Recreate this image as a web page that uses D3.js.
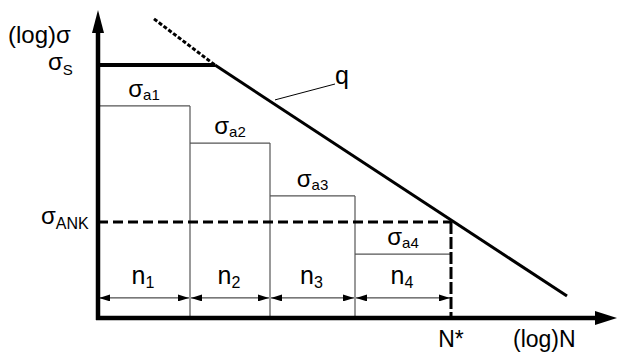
<!DOCTYPE html>
<html>
<head>
<meta charset="utf-8">
<script src="https://cdn.jsdelivr.net/npm/d3@7"></script>
<style>
  html, body { margin: 0; padding: 0; background: #fff; }
  svg { display: block; }
  text { font-family: "Liberation Sans", Arial, sans-serif; fill: #000; }
</style>
</head>
<body>
<div id="chart"></div>
<script>
// Load spectrum blocks on a log-log stress / cycle diagram (units are log-scale steps)
const blockStarts   = [0, 1.84, 3.44, 5.14];
const blockEnds     = [1.84, 3.44, 5.14, 7.06];
const blockStress   = [7.07, 5.83, 4.07, 2.13];
const stressLabels  = ["a1", "a2", "a3", "a4"];
const cycleLabels   = ["1", "2", "3", "4"];

const sigmaS   = 8.43;   // static strength level
const sigmaANK = 3.2;    // endurance limit
const nStar    = 7.06;   // knee point N*
const arrowLevel = 0.67; // height of the n_i dimension arrows

// Woehler line q: sloping part and extrapolated (dotted) part
const qLine      = [[2.34, 8.43], [9.38, 0.73]];
const qDotted    = [[1.12, 9.97], [2.34, 8.43]];
const qLeader    = [[3.54, 7.27], [4.74, 7.8]];

const W = 618, H = 353;
const x = d3.scaleLinear().domain([0, 10]).range([98, 598]);
const y = d3.scaleLinear().domain([0, 10]).range([318, 18]);

const svg = d3.select("#chart").append("svg")
  .attr("width", W).attr("height", H);

const defs = svg.append("defs");
defs.append("marker").attr("id", "dimArrow")
  .attr("viewBox", "0 0 11 7").attr("refX", 11).attr("refY", 3.5)
  .attr("markerWidth", 11).attr("markerHeight", 7)
  .attr("markerUnits", "userSpaceOnUse").attr("orient", "auto-start-reverse")
  .append("path").attr("d", "M0,0 L11,3.5 L0,7 Z").attr("fill", "#000");

const line = d3.line().x(d => x(d[0])).y(d => y(d[1]));

// Block outlines (thin grey)
const thin = svg.append("g").attr("stroke", "#555").attr("stroke-width", 1.2).attr("fill", "none");
blockStress.forEach((s, i) => {
  thin.append("line")
    .attr("x1", x(blockStarts[i])).attr("x2", x(blockEnds[i]))
    .attr("y1", y(s)).attr("y2", y(s));
  if (i < blockStress.length - 1) {
    thin.append("line")
      .attr("x1", x(blockEnds[i])).attr("x2", x(blockEnds[i]))
      .attr("y1", y(s)).attr("y2", y(0));
  }
});

// Dimension arrows n_i
const dims = svg.append("g").attr("stroke", "#222").attr("stroke-width", 1);
blockStarts.forEach((s, i) => {
  dims.append("line")
    .attr("x1", x(s) + 1).attr("x2", x(blockEnds[i]) - 1)
    .attr("y1", y(arrowLevel)).attr("y2", y(arrowLevel))
    .attr("marker-start", "url(#dimArrow)")
    .attr("marker-end", "url(#dimArrow)");
});

// Endurance limit and N* (dashed)
svg.append("line")
  .attr("x1", x(0)).attr("x2", x(nStar))
  .attr("y1", y(sigmaANK)).attr("y2", y(sigmaANK))
  .attr("stroke", "#000").attr("stroke-width", 3).attr("stroke-dasharray", "10,5");
svg.append("line")
  .attr("x1", x(nStar)).attr("x2", x(nStar))
  .attr("y1", y(sigmaANK)).attr("y2", y(0))
  .attr("stroke", "#000").attr("stroke-width", 3).attr("stroke-dasharray", "12,3");

// Woehler line
svg.append("path").datum(qDotted).attr("d", line)
  .attr("fill", "none").attr("stroke", "#000").attr("stroke-width", 3)
  .attr("stroke-dasharray", "4,2");
svg.append("path").datum(qLine).attr("d", line)
  .attr("fill", "none").attr("stroke", "#000").attr("stroke-width", 3);
svg.append("line")
  .attr("x1", x(0)).attr("x2", x(qLine[0][0]))
  .attr("y1", y(sigmaS)).attr("y2", y(sigmaS))
  .attr("stroke", "#000").attr("stroke-width", 4);
svg.append("path").datum(qLeader).attr("d", line)
  .attr("fill", "none").attr("stroke", "#000").attr("stroke-width", 1);

// Axes with arrow heads
svg.append("line").attr("x1", x(0)).attr("x2", x(0))
  .attr("y1", y(0) + 2).attr("y2", 30)
  .attr("stroke", "#000").attr("stroke-width", 4.5);
svg.append("path").attr("d", `M${x(0)},10 L${x(0) - 6},33 L${x(0) + 6},33 Z`).attr("fill", "#000");
svg.append("line").attr("x1", x(0) - 2).attr("x2", 598)
  .attr("y1", y(0)).attr("y2", y(0))
  .attr("stroke", "#000").attr("stroke-width", 4.5);
svg.append("path").attr("d", `M617,${y(0)} L595,${y(0) - 7} L595,${y(0) + 7} Z`).attr("fill", "#000");

// Labels
function sub(g, xPos, yPos, main, subscript, size, subSize, shift, anchor) {
  const t = g.append("text").attr("x", xPos).attr("y", yPos)
    .attr("font-size", size).attr("text-anchor", anchor || "start");
  t.append("tspan").text(main);
  t.append("tspan").attr("font-size", subSize).attr("dy", shift).text(subscript);
  return t;
}

const labels = svg.append("g");
labels.append("text").attr("x", 8).attr("y", 43).attr("font-size", 24).text("(log)σ");
sub(labels, 48, 70, "σ", "S", 24, 15, 5);
sub(labels, 41, 224, "σ", "ANK", 24, 16, 5);

blockStress.forEach((s, i) => {
  const cx = (x(blockStarts[i]) + x(blockEnds[i])) / 2;
  sub(labels, cx, y(s) - 9, "σ", stressLabels[i], 24, 15, 3, "middle");
  sub(labels, cx - 1, y(arrowLevel) - 14, "n", cycleLabels[i], 25, 16, 4, "middle");
});

labels.append("text").attr("x", 335).attr("y", 84).attr("font-size", 25).text("q");
labels.append("text").attr("x", x(nStar)).attr("y", 347).attr("font-size", 23)
  .attr("text-anchor", "middle").text("N*");
labels.append("text").attr("x", 513).attr("y", 347).attr("font-size", 23).text("(log)N");
</script>
</body>
</html>
